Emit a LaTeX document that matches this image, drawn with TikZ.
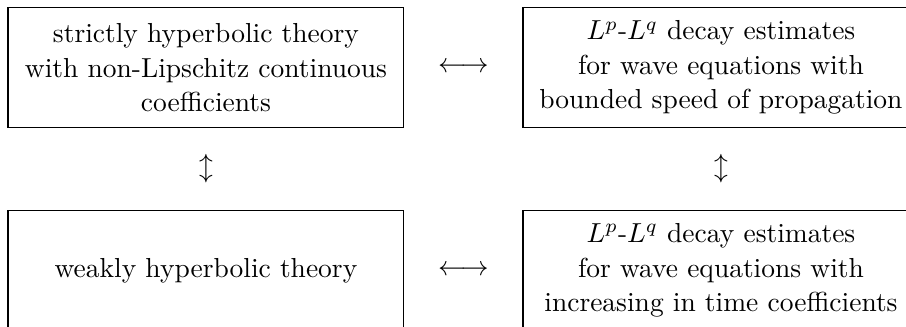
\documentclass[tikz,border=0pt]{standalone}
\usetikzlibrary{positioning,calc}

\begin{document}
\begin{tikzpicture}[
    node distance=29.5pt and 42.9pt,
    theory/.style={draw,align=center,
                   minimum width=144pt,minimum height=43.8pt,inner sep=2pt,
                   execute at begin node={\baselineskip=12.5pt}}]
    \useasboundingbox (0,0) rectangle (329.5pt,-118.9pt);
    \node[theory,anchor=north west] (sh) at (2.7pt,-2.5pt)
        {strictly hyperbolic theory\\ with non-Lipschitz continuous\\ coefficients};
    \node[theory,right=of sh] (bs)
        {$L^p$-$L^q$ decay estimates\\ for wave equations with\\ bounded speed of propagation};
    \node[theory,below=of sh] (wh) {weakly hyperbolic theory};
    \node[theory,below=of bs] (it)
        {$L^p$-$L^q$ decay estimates\\ for wave equations with\\ increasing in time coefficients};
    % equivalences
    \node (shbs) at ($(sh.east)!.5!(bs.west)$) {$\longleftrightarrow$};
    \node (whit) at ($(wh.east)!.5!(it.west)$) {$\longleftrightarrow$};
    \node (shwh) at ($(sh.south)!.5!(wh.north)$) {$\updownarrow$};
    \node (bsit) at ($(bs.south)!.5!(it.north)$) {$\updownarrow$};
\end{tikzpicture}
\end{document}
